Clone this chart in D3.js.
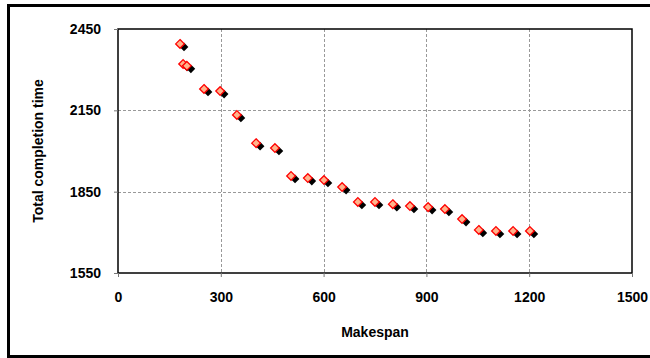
<!DOCTYPE html>
<html>
<head>
<meta charset="utf-8">
<script src="https://cdn.jsdelivr.net/npm/d3@7"></script>
<style>
  body { margin: 0; background: #fff; }
  text { font-family: "Liberation Sans", Arial, sans-serif; font-weight: bold; }
</style>
</head>
<body>
<div id="chart"></div>
<script>
// Data
const makespan = [181, 190, 201, 251, 298, 347, 403, 458, 505, 554, 601, 654,
                  700, 750, 802, 852, 905, 954, 1004, 1053, 1103, 1153, 1202];
const totalTime = [2395, 2321, 2314, 2229, 2221, 2133, 2029, 2011, 1908, 1900, 1893, 1867,
                   1812, 1812, 1804, 1797, 1793, 1786, 1749, 1709, 1705, 1705, 1705];
const xTicks = [0, 300, 600, 900, 1200, 1500];
const yTicks = [1550, 1850, 2150, 2450];

const W = 650, H = 358;
const margin = { top: 29, right: 18, bottom: 85, left: 118 };
const width = W - margin.left - margin.right;
const height = H - margin.top - margin.bottom;

const svg = d3.select("#chart").append("svg")
    .attr("width", W)
    .attr("height", H);

// Outer frame
svg.append("rect")
    .attr("x", 8.5).attr("y", 5.5)
    .attr("width", 650).attr("height", 351)
    .attr("fill", "none")
    .attr("stroke", "#000")
    .attr("stroke-width", 3);

const g = svg.append("g")
    .attr("transform", `translate(${margin.left},${margin.top})`);

const x = d3.scaleLinear().domain([0, 1500]).range([0, width]);
const y = d3.scaleLinear().domain([1550, 2450]).range([height, 0]);

// Gridlines
g.selectAll(".gx")
    .data(xTicks.slice(1, -1))
    .enter().append("line")
    .attr("x1", d => Math.round(x(d)) + 0.5).attr("x2", d => Math.round(x(d)) + 0.5)
    .attr("y1", 0).attr("y2", height)
    .attr("stroke", "#999").attr("stroke-dasharray", "3,2");

g.selectAll(".gy")
    .data(yTicks.slice(1, -1))
    .enter().append("line")
    .attr("y1", d => Math.round(y(d)) + 0.5).attr("y2", d => Math.round(y(d)) + 0.5)
    .attr("x1", 0).attr("x2", width)
    .attr("stroke", "#999").attr("stroke-dasharray", "3,2");

// Plot frame
g.append("rect")
    .attr("x", 0).attr("y", 0)
    .attr("width", width).attr("height", height)
    .attr("fill", "none")
    .attr("stroke", "#000")
    .attr("stroke-width", 1.5);

// Axes
const xAxis = g.append("g")
    .attr("transform", `translate(0,${height})`)
    .call(d3.axisBottom(x).tickValues(xTicks).tickFormat(d3.format("d")).tickSize(4).tickPadding(15));
const yAxis = g.append("g")
    .call(d3.axisLeft(y).tickValues(yTicks).tickFormat(d3.format("d")).tickSize(4).tickPadding(13));

[xAxis, yAxis].forEach(a => {
    a.select(".domain").remove();
    a.selectAll(".tick line").attr("stroke", "#777");
    a.selectAll("text").style("font-size", "14px").attr("fill", "#000");
});

// Axis titles
svg.append("text")
    .attr("x", margin.left + width / 2)
    .attr("y", 337)
    .attr("text-anchor", "middle")
    .style("font-size", "14px")
    .text("Makespan");

svg.append("text")
    .attr("transform", `translate(43,${margin.top + height / 2}) rotate(-90)`)
    .attr("text-anchor", "middle")
    .style("font-size", "14px")
    .text("Total completion time");

// Points: black shadow then red diamond
const pts = makespan.map((m, i) => ({ x: m, y: totalTime[i] }));
const diamond = d3.symbol().type(d3.symbolDiamond2).size(48);

g.selectAll(".shadow")
    .data(pts)
    .enter().append("path")
    .attr("d", diamond)
    .attr("transform", d => `translate(${x(d.x) + 4},${y(d.y) + 3})`)
    .attr("fill", "#000");

g.selectAll(".pt")
    .data(pts)
    .enter().append("path")
    .attr("d", diamond)
    .attr("transform", d => `translate(${x(d.x)},${y(d.y)})`)
    .attr("fill", "#ffb48c")
    .attr("stroke", "#ff0000")
    .attr("stroke-width", 1.3);
</script>
</body>
</html>
